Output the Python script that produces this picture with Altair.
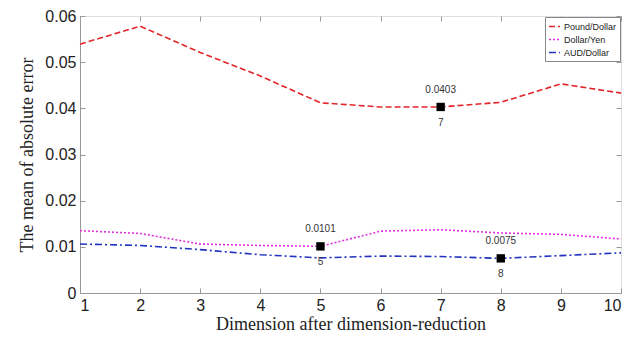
import altair as alt
import pandas as pd

dims = [1, 2, 3, 4, 5, 6, 7, 8, 9, 10]
series_names = ["Pound/Dollar", "Dollar/Yen", "AUD/Dollar"]
pound = [0.0539, 0.0578, 0.0521, 0.0470, 0.0412, 0.0403, 0.0403, 0.0413, 0.0453, 0.0433]
yen = [0.0135, 0.0129, 0.0106, 0.0103, 0.0101, 0.0134, 0.0137, 0.0130, 0.0127, 0.0117]
aud = [0.0106, 0.0103, 0.0094, 0.0083, 0.0076, 0.0080, 0.0079, 0.0075, 0.0081, 0.0087]
y_ticks = [0, 0.01, 0.02, 0.03, 0.04, 0.05, 0.06]

mark_x = [7, 5, 8]
mark_y = [0.0403, 0.0101, 0.0075]
mark_val = ["0.0403", "0.0101", "0.0075"]
mark_dim = ["7", "5", "8"]

colors = ["#e3262b", "#e030e0", "#2233c0"]
dashes = [[6, 3], [2, 2], [7, 3, 2, 3]]

rows = []
for name, vals in zip(series_names, [pound, yen, aud]):
    for d, v in zip(dims, vals):
        rows.append({"dim": d, "val": v, "series": name})
df = pd.DataFrame(rows)
mdf = pd.DataFrame({"dim": mark_x, "val": mark_y, "vlab": mark_val, "dlab": mark_dim})

W, H = 541, 277
xscale = alt.Scale(domain=[1, 10], nice=False, zero=False)
yscale = alt.Scale(domain=[0, 0.06], nice=False)
sans = "Liberation Sans"
serif = "Liberation Serif"

xaxis_main = alt.Axis(values=dims, format="d", labelFont=sans, labelFontSize=16, labelColor="#222",
                      tickSize=0, domainColor="#999", title="Dimension after dimension-reduction",
                      titleFont=serif, titleFontSize=18, titleFontWeight="normal", titleColor="#222",
                      titlePadding=2, labelPadding=4, grid=False)
yaxis_main = alt.Axis(values=y_ticks, labelFont=sans, labelFontSize=16,
                      labelColor="#222", tickSize=0, domainColor="#999", title="The mean of absolute error",
                      titleFont=serif, titleFontSize=18, titleFontWeight="normal", titleColor="#222",
                      titlePadding=8, labelPadding=4, grid=False,
                      labelExpr="datum.value == 0 ? '0' : format(datum.value, '.2f')")

lines = alt.Chart(df).mark_line(strokeWidth=1.6).encode(
    x=alt.X("dim:Q", scale=xscale, axis=xaxis_main),
    y=alt.Y("val:Q", scale=yscale, axis=yaxis_main),
    color=alt.Color("series:N", scale=alt.Scale(domain=series_names, range=colors),
                    legend=alt.Legend(title=None, orient="top-right", offset=1, fillColor="white",
                                      strokeColor="#888", padding=3, labelFont=sans, labelFontSize=9,
                                      labelColor="#222", symbolType="stroke", symbolSize=120,
                                      symbolStrokeWidth=1.6, rowPadding=1, labelOffset=3)),
    strokeDash=alt.StrokeDash("series:N", scale=alt.Scale(domain=series_names, range=dashes), legend=None),
)

tick_ax_x = alt.Axis(values=dims, orient="bottom", offset=-5, tickSize=5, labels=False, domain=False,
                     title=None, tickColor="#999", grid=False)
tick_ax_x2 = alt.Axis(values=dims, orient="top", offset=-5, tickSize=5, labels=False, domain=False,
                      title=None, tickColor="#999", grid=False)
tick_ax_y = alt.Axis(values=y_ticks, orient="left", offset=-5, tickSize=5,
                     labels=False, domain=False, title=None, tickColor="#999", grid=False)
tick_ax_y2 = alt.Axis(values=y_ticks, orient="right", offset=-5, tickSize=5,
                      labels=False, domain=False, title=None, tickColor="#999", grid=False)

pts = alt.Chart(mdf).mark_square(size=70, color="black", opacity=1).encode(
    x=alt.X("dim:Q", scale=xscale, axis=tick_ax_x),
    y=alt.Y("val:Q", scale=yscale, axis=tick_ax_y),
)
vtext = alt.Chart(mdf).mark_text(dy=-17, font=sans, fontSize=10, color="#333").encode(
    x=alt.X("dim:Q", scale=xscale, axis=tick_ax_x2),
    y=alt.Y("val:Q", scale=yscale, axis=tick_ax_y2),
    text="vlab:N",
)
dtext = alt.Chart(mdf).mark_text(dy=16, font=sans, fontSize=10, color="#333").encode(
    x=alt.X("dim:Q", scale=xscale, axis=None),
    y=alt.Y("val:Q", scale=yscale, axis=None),
    text="dlab:N",
)

chart = alt.layer(lines, pts, vtext, dtext).resolve_axis(x="independent", y="independent").properties(
    width=W, height=H, autosize=alt.AutoSizeParams(type="none"),
    padding={"left": 72, "top": 8, "right": 13, "bottom": 44},
).configure_view(stroke="#999", strokeWidth=1).configure_axis(
    titleFont=serif, titleFontWeight="normal"
).configure(background="white")

chart.save("out.html", embed_options={"renderer": "svg", "actions": False})
